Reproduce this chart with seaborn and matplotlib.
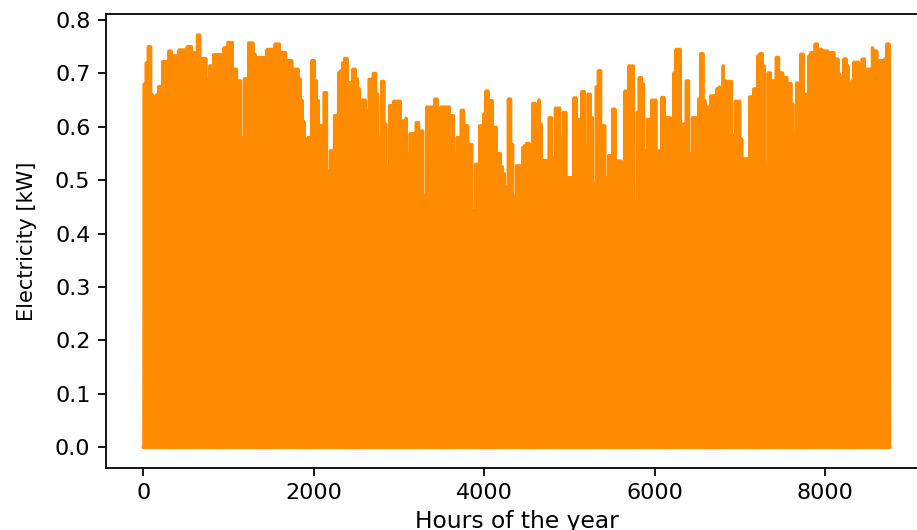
import matplotlib
matplotlib.use('Agg')
import matplotlib.pyplot as plt
import seaborn as sns
import pandas as pd

# daily peak of the hourly electricity curve (kW)
daily_peak_kw = [
    0.68, 0.72, 0.75, 0.75, 0.66, 0.655, 0.66, 0.675, 0.675, 0.722,
    0.722, 0.722, 0.742, 0.742, 0.733, 0.733, 0.733, 0.744, 0.744, 0.744,
    0.744, 0.75, 0.75, 0.75, 0.739, 0.739, 0.772, 0.772, 0.728, 0.728,
    0.728, 0.69, 0.714, 0.714, 0.735, 0.735, 0.735, 0.735, 0.735, 0.748,
    0.748, 0.758, 0.758, 0.758, 0.708, 0.708, 0.686, 0.686, 0.58, 0.69,
    0.69, 0.757, 0.757, 0.757, 0.736, 0.73, 0.73, 0.73, 0.73, 0.73,
    0.745, 0.745, 0.745, 0.745, 0.755, 0.755, 0.755, 0.739, 0.739, 0.739,
    0.724, 0.724, 0.724, 0.708, 0.708, 0.708, 0.69, 0.65, 0.61, 0.52,
    0.58, 0.58, 0.724, 0.724, 0.686, 0.649, 0.602, 0.602, 0.664, 0.664,
    0.518, 0.555, 0.555, 0.621, 0.621, 0.701, 0.705, 0.72, 0.728, 0.728,
    0.683, 0.683, 0.708, 0.708, 0.69, 0.671, 0.65, 0.65, 0.65, 0.63,
    0.689, 0.689, 0.70, 0.70, 0.661, 0.58, 0.685, 0.685, 0.605, 0.527,
    0.64, 0.64, 0.648, 0.648, 0.648, 0.648, 0.611, 0.611, 0.616, 0.55, 0.587,
    0.587, 0.587, 0.608, 0.608, 0.592, 0.592, 0.471, 0.637, 0.637, 0.637,
    0.637, 0.652, 0.652, 0.53, 0.637, 0.637, 0.637, 0.637, 0.637, 0.621,
    0.621, 0.55, 0.58, 0.58, 0.631, 0.631, 0.602, 0.602, 0.567, 0.567,
    0.443, 0.53, 0.53, 0.602, 0.602, 0.624, 0.667, 0.667, 0.649, 0.649,
    0.599, 0.599, 0.55, 0.55, 0.525, 0.512, 0.487, 0.652, 0.652, 0.567,
    0.468, 0.527, 0.527, 0.527, 0.561, 0.565, 0.569, 0.569, 0.502, 0.644,
    0.644, 0.587, 0.65, 0.605, 0.537, 0.537, 0.537, 0.617, 0.617, 0.542,
    0.635, 0.635, 0.635, 0.58, 0.627, 0.627, 0.505, 0.505, 0.505, 0.654,
    0.654, 0.614, 0.614, 0.666, 0.666, 0.565, 0.661, 0.661, 0.617, 0.493,
    0.675, 0.705, 0.705, 0.602, 0.602, 0.505, 0.546, 0.546, 0.633, 0.633,
    0.536, 0.536, 0.536, 0.484, 0.667, 0.667, 0.714, 0.714, 0.714, 0.459,
    0.627, 0.692, 0.692, 0.68, 0.555, 0.614, 0.614, 0.65, 0.65, 0.65,
    0.555, 0.555, 0.655, 0.655, 0.617, 0.617, 0.617, 0.55, 0.701, 0.745, 0.745,
    0.745, 0.605, 0.605, 0.686, 0.686, 0.55, 0.617, 0.617, 0.617, 0.652,
    0.737, 0.737, 0.649, 0.637, 0.637, 0.658, 0.658, 0.658, 0.671, 0.674,
    0.674, 0.714, 0.686, 0.685, 0.685, 0.685, 0.583, 0.648, 0.648, 0.648,
    0.577, 0.54, 0.54, 0.54, 0.656, 0.656, 0.671, 0.671, 0.733, 0.737,
    0.737, 0.714, 0.524, 0.701, 0.701, 0.686, 0.686, 0.73, 0.73, 0.701,
    0.701, 0.692, 0.692, 0.681, 0.681, 0.642, 0.589, 0.682, 0.682, 0.736,
    0.736, 0.661, 0.661, 0.733, 0.739, 0.739, 0.755, 0.755, 0.745, 0.745,
    0.742, 0.742, 0.742, 0.739, 0.739, 0.739, 0.727, 0.727, 0.698, 0.692,
    0.727, 0.727, 0.714, 0.614, 0.686, 0.721, 0.721, 0.721, 0.718, 0.727,
    0.727, 0.708, 0.708, 0.708, 0.748, 0.742, 0.742, 0.724, 0.724, 0.724,
    0.727, 0.755, 0.755,
]

# night hours are zero, the sun-up hours peak around noon
hours = [0]
power = [0.0]
for day, peak in enumerate(daily_peak_kw):
    hours += [24 * day + 6, 24 * day + 12, 24 * day + 18]
    power += [0.0, peak, 0.0]
hours.append(8759)
power.append(0.0)

df = pd.DataFrame({"hour": hours, "kw": power})

fig = plt.figure(figsize=(917 / 160, 530 / 160), dpi=160)
# the reference is cropped on the right, so the axes run past the figure edge
ax = fig.add_axes([0.1156, 0.1175, 0.8955, 0.8555])

sns.lineplot(data=df, x="hour", y="kw", color="darkorange", linewidth=1.5,
             estimator=None, sort=False, ax=ax)

ax.set_xlabel("Hours of the year", fontsize=10.5, labelpad=3)
ax.set_ylabel("Electricity [kW]", fontsize=9.4, labelpad=8)

fig.savefig("out.png", dpi=160)
plt.close(fig)
